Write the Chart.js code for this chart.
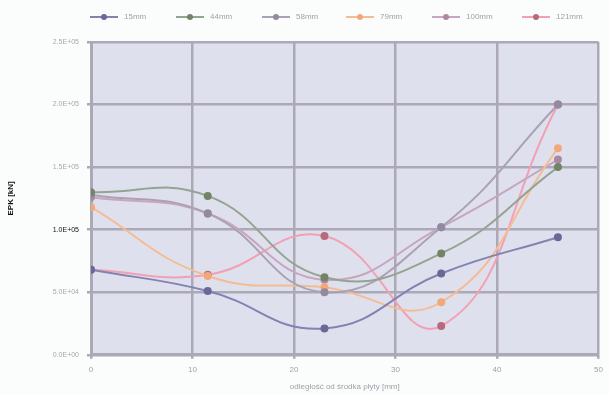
<!DOCTYPE html>
<html><head><meta charset="utf-8">
<script src="https://cdn.jsdelivr.net/npm/chart.js@4/dist/chart.umd.min.js"></script>
<style>html,body{margin:0;padding:0;background:#fbfdfd;}#wrap{width:609px;height:395px;}</style>
</head><body><div id="wrap"><canvas id="c" width="609" height="395"></canvas></div>
<script>
const xPositions = [0, 11.5, 23, 34.5, 46];
const seriesNames = ["15mm", "44mm", "58mm", "79mm", "100mm", "121mm"];
const s15 = [68000, 51000, 21000, 65000, 94000];
const s44 = [130000, 127000, 62000, 81000, 150000];
const s58 = [128000, 113000, 50000, 102000, 200000];
const s79 = [118000, 63000, 54000, 42000, 165000];
const s100 = [126000, 113000, 60000, 102000, 156000];
const s121 = [68000, 64000, 95000, 23000, 200000];
const yTicks = [0, 50000, 100000, 150000, 200000, 250000];
const xTicks = [0, 10, 20, 30, 40, 50];

const colors = ["#8482b2", "#94a492", "#aaa2b4", "#f4bc92", "#c8a6c0", "#f2a0b4"];
const pointColors = ["#6a6896", "#728468", "#928aa0", "#f2a87a", "#ac88a4", "#b86a7a"];
const allSeries = [s15, s44, s58, s79, s100, s121];

const datasets = allSeries.map((s, i) => ({
  label: seriesNames[i],
  data: s.map((v, j) => ({x: xPositions[j], y: v})),
  borderColor: colors[i],
  backgroundColor: pointColors[i],
  pointBackgroundColor: pointColors[i],
  pointBorderColor: pointColors[i],
  pointRadius: 3,
  borderWidth: 2,
  showLine: true,
  tension: 0.45,
  fill: false
}));

const bgPlugin = {
  id: 'bg',
  beforeDraw(chart) {
    const {ctx, chartArea: a} = chart;
    ctx.save();
    ctx.fillStyle = '#dfe0ee';
    ctx.fillRect(a.left, a.top, a.right - a.left, a.bottom - a.top);
    ctx.restore();
  },
  afterDraw(chart) {
    const ctx = chart.ctx;
    const xs = [90, 176, 262, 346, 432, 522];
    ctx.save();
    ctx.font = '8px "Liberation Sans", Arial, sans-serif';
    ctx.textBaseline = 'middle';
    seriesNames.forEach((n, i) => {
      const x = xs[i], y = 17;
      ctx.strokeStyle = colors[i];
      ctx.lineWidth = 2;
      ctx.beginPath(); ctx.moveTo(x, y); ctx.lineTo(x + 28, y); ctx.stroke();
      ctx.fillStyle = pointColors[i];
      ctx.beginPath(); ctx.arc(x + 14, y, 3, 0, Math.PI * 2); ctx.fill();
      ctx.fillStyle = '#a0a0a8';
      ctx.fillText(n, x + 34, y);
    });
    ctx.restore();
  }
};

new Chart(document.getElementById('c'), {
  type: 'scatter',
  data: {datasets},
  plugins: [bgPlugin],
  options: {
    responsive: false,
    animation: false,
    layout: {padding: {top: 42, right: 7, left: 6, bottom: 3}},
    plugins: {legend: {display: false}, tooltip: {enabled: false}},
    scales: {
      x: {
        type: 'linear', min: 0, max: 50,
        afterBuildTicks: s => { s.ticks = xTicks.map(v => ({value: v})); },
        grid: {color: '#aca8b6', lineWidth: 2.5, drawTicks: true, tickLength: 4},
        border: {color: '#aca8b6', width: 3},
        ticks: {color: '#a0a0a8', font: {size: 8, family: '"Liberation Sans", Arial'}, padding: 6, maxRotation: 0},
        title: {display: true, text: 'odległość od środka płyty [mm]', color: '#a0a0a8', font: {size: 8, family: '"Liberation Sans", Arial'}, padding: {top: 2, bottom: 0}}
      },
      y: {
        type: 'linear', min: 0, max: 250000,
        afterBuildTicks: s => { s.ticks = yTicks.map(v => ({value: v})); },
        afterFit: s => { s.width = 85; },
        grid: {color: '#aca8b6', lineWidth: 2.5, tickLength: 4},
        border: {color: '#aca8b6', width: 3},
        ticks: {
          color: c => c.tick && c.tick.value === 100000 ? '#111' : '#a8a8b0',
          font: {size: 7, family: '"Liberation Sans", Arial'},
          padding: 8,
          callback: v => { const e = v === 0 ? 0 : Math.floor(Math.log10(v)); const m = v === 0 ? 0 : v / Math.pow(10, e); return m.toFixed(1) + 'E+' + String(e).padStart(2, '0'); }
        },
        title: {display: true, text: 'EPK [kN]', color: '#111', font: {size: 8, family: '"Liberation Sans", Arial', weight: 'bold'}, padding: {top: 0, bottom: 4}}
      }
    }
  }
});
</script></body></html>
